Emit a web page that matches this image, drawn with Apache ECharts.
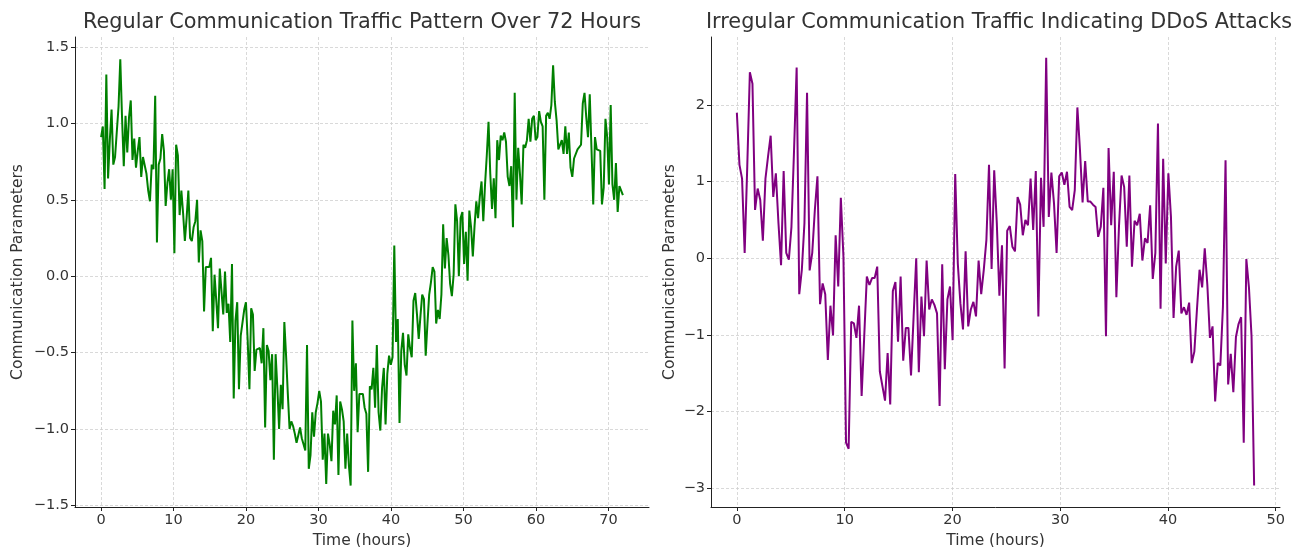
<!DOCTYPE html>
<html><head><meta charset="utf-8">
<script src="https://cdn.jsdelivr.net/npm/echarts@6/dist/echarts.min.js"></script>
<style>html,body{margin:0;padding:0;background:#fff}#c{width:1301px;height:547px}</style>
</head><body><div id="c"></div>
<script>
const leftTitle = 'Regular Communication Traffic Pattern Over 72 Hours';
const rightTitle = 'Irregular Communication Traffic Indicating DDoS Attacks';
const xName = 'Time (hours)';
const yName = 'Communication Parameters';
const leftHours = 72;
const rightHours = 48;

const regularValues = [
 0.91, 0.98, 0.57, 1.32, 0.64, 0.89, 1.09, 0.73, 0.78, 0.79,
 1.11, 1.42, 1.04, 0.72, 1.05, 0.81, 1.04, 1.15, 0.76, 0.90,
 0.71, 0.82, 0.91, 0.65, 0.78, 0.77, 0.67, 0.56, 0.49, 0.73,
 0.70, 1.18, 0.22, 0.73, 0.77, 0.93, 0.82, 0.46, 0.61, 0.70,
 0.50, 0.70, 0.15, 0.86, 0.79, 0.40, 0.56, 0.41, 0.23, 0.38,
 0.56, 0.25, 0.23, 0.32, 0.36, 0.50, 0.09, 0.30, 0.23, -0.23,
 0.06, 0.07, 0.06, 0.12, -0.36, 0.01, -0.16, -0.34, 0.05, 0.06,
 -0.25, 0.03, -0.24, -0.18, -0.43, 0.08, -0.80, -0.29, -0.17, -0.74,
 -0.39, -0.39, -0.22, -0.17, -0.42, -0.74, -0.21, -0.25, -0.62, -0.48,
 -0.48, -0.47, -0.57, -0.34, -0.99, -0.45, -0.49, -0.68, -0.51, -1.20,
 -0.51, -0.73, -1.00, -0.71, -0.87, -0.30, -0.52, -0.77, -1.00, -0.95,
 -0.98, -1.03, -1.09, -1.04, -0.99, -1.06, -1.10, -1.14, -0.45, -1.26,
 -1.17, -0.89, -1.05, -0.89, -0.83, -0.75, -0.82, -1.20, -1.03, -1.36,
 -1.03, -1.10, -1.21, -0.88, -0.97, -0.78, -1.30, -0.82, -0.87, -0.95,
 -1.26, -1.03, -1.24, -1.37, -0.29, -0.75, -0.57, -1.02, -0.77, -0.76,
 -0.77, -0.86, -0.90, -1.28, -0.72, -0.74, -0.60, -0.86, -0.45, -0.89,
 -1.01, -0.73, -0.60, -0.97, -0.64, -0.52, -0.58, -0.53, 0.20, -0.43,
 -0.28, -0.96, -0.49, -0.37, -0.58, -0.65, -0.38, -0.47, -0.53, -0.16,
 -0.11, -0.25, -0.41, -0.26, -0.12, -0.15, -0.52, -0.31, -0.12, -0.04,
 0.06, 0.03, -0.31, -0.22, -0.28, -0.12, 0.34, 0.05, 0.25, 0.14,
 -0.05, -0.13, 0.01, 0.47, 0.36, 0.00, 0.38, 0.42, 0.08, 0.29,
 -0.03, 0.43, 0.32, 0.13, 0.33, 0.49, 0.38, 0.52, 0.62, 0.36,
 0.60, 0.79, 1.01, 0.67, 0.44, 0.64, 0.38, 0.89, 0.76, 0.92,
 0.89, 0.94, 0.88, 0.65, 0.59, 0.72, 0.32, 1.20, 0.50, 0.84,
 0.67, 0.47, 0.86, 0.84, 0.89, 1.03, 0.88, 1.03, 1.05, 0.89,
 0.91, 1.08, 1.01, 0.98, 0.50, 1.05, 1.07, 1.03, 1.12, 1.38,
 1.14, 1.02, 0.83, 0.83, 0.89, 0.80, 0.98, 0.80, 0.94, 0.71,
 0.65, 0.77, 0.76, 0.83, 0.82, 0.86, 1.13, 1.20, 1.04, 0.91,
 1.19, 0.83, 0.47, 0.91, 0.83, 0.82, 0.82, 0.47, 0.58, 1.03,
 0.91, 0.60, 1.12, 0.60, 0.50, 0.74, 0.42, 0.59, 0.59, 0.53
];

const ddosValues = [
 1.90, 1.22, 1.04, 0.07, 1.20, 2.43, 2.28, 0.63, 0.91, 0.76,
 0.23, 1.04, 1.33, 1.60, 0.80, 1.11, 0.46, -0.09, 1.14, 0.07,
 -0.02, 0.41, 1.41, 2.49, -0.47, -0.15, 0.46, 2.16, -0.16, 0.07,
 0.63, 1.07, -0.60, -0.33, -0.47, -1.33, -0.62, -1.01, 0.30, -0.37,
 0.79, 0.02, -2.41, -2.49, -0.83, -0.85, -1.04, -0.62, -1.80, -1.02,
 -0.24, -0.35, -0.26, -0.26, -0.11, -1.48, -1.67, -1.86, -1.24, -1.91,
 -0.43, -0.31, -1.09, -0.24, -1.34, -0.91, -0.91, -1.53, -0.76, 0.00,
 -1.49, -0.50, -1.02, -0.03, -0.67, -0.54, -0.61, -0.72, -1.93, -0.08,
 -1.45, -0.54, -0.37, -1.07, 1.10, -0.07, -0.59, -0.93, 0.09, -0.89,
 -0.67, -0.57, -0.76, -0.03, -0.47, -0.15, 0.24, 1.22, -0.14, 1.15,
 0.46, -0.49, 0.17, -1.44, 0.36, 0.42, 0.15, 0.09, 0.80, 0.70,
 0.30, 0.50, 0.43, 1.04, 0.37, 1.14, -0.76, 1.05, 0.41, 2.62,
 0.54, 1.12, 0.72, 0.07, 1.07, 1.12, 0.96, 1.13, 0.67, 0.63,
 0.89, 1.97, 1.41, 0.73, 1.27, 0.74, 0.74, 0.70, 0.67, 0.28,
 0.41, 0.92, -1.02, 1.44, 0.43, 1.13, -0.51, 0.41, 1.08, 0.93,
 0.15, 1.08, -0.11, 0.49, 0.43, 0.58, -0.03, 0.26, 0.20, 0.69,
 -0.27, 0.07, 1.76, -0.66, 1.30, -0.07, 1.11, 0.54, -0.78, -0.11,
 0.10, -0.72, -0.64, -0.74, -0.58, -1.37, -1.22, -0.67, -0.15, -0.38,
 0.13, -0.35, -1.04, -0.89, -1.87, -1.37, -1.40, -0.63, 1.28, -1.65,
 -1.25, -1.75, -1.03, -0.86, -0.77, -2.41, -0.01, -0.38, -1.02, -2.97
];

const leftXTicks = [0, 10, 20, 30, 40, 50, 60, 70];
const rightXTicks = [0, 10, 20, 30, 40, 50];
const leftYTicks = [-1.5, -1.0, -0.5, 0.0, 0.5, 1.0, 1.5];
const rightYTicks = [-3, -2, -1, 0, 1, 2];

function toPairs(vals, hours) {
  const n = vals.length;
  return vals.map((v, i) => [i * hours / (n - 1), v]);
}
const minus = s => String(s).replace('-', '\u2212');
const FONT = 'DejaVu Sans';
const gridLine = { show: true, lineStyle: { color: '#cfcfcf', width: 0.8, type: [3, 2] } };
function xAxis(idx, min, max, ticks) {
  return {
    type: 'value', gridIndex: idx, min: min, max: max,
    name: xName, nameLocation: 'middle', nameGap: 24,
    nameTextStyle: { fontFamily: FONT, fontSize: 15.5, color: '#333' },
    axisLine: { show: true, onZero: false, lineStyle: { color: '#222', width: 1 } },
    axisTick: { show: true, length: 4, customValues: ticks, lineStyle: { color: '#222' } },
    axisLabel: { customValues: ticks, margin: 6, fontFamily: FONT, fontSize: 14.5, color: '#333', formatter: v => minus(v) },
    splitLine: gridLine
  };
}
function yAxis(idx, min, max, ticks, dec, gap) {
  return {
    type: 'value', gridIndex: idx, min: min, max: max,
    name: yName, nameLocation: 'middle', nameGap: gap,
    nameTextStyle: { fontFamily: FONT, fontSize: 15.5, color: '#333' },
    axisLine: { show: true, onZero: false, lineStyle: { color: '#222', width: 1 } },
    axisTick: { show: true, length: 4, customValues: ticks, lineStyle: { color: '#222' } },
    axisLabel: { customValues: ticks, margin: 6, fontFamily: FONT, fontSize: 14.5, color: '#333', formatter: v => minus(Number(v).toFixed(dec)) },
    splitLine: gridLine
  };
}

const chart = echarts.init(document.getElementById('c'), null, { renderer: 'canvas' });
chart.setOption({
  animation: false,
  backgroundColor: '#fff',
  title: [
    { text: leftTitle, left: 357, top: 7, textAlign: 'center', textStyle: { fontFamily: FONT, fontSize: 20.8, fontWeight: 'normal', color: '#333' } },
    { text: rightTitle, left: 994, top: 7, textAlign: 'center', textStyle: { fontFamily: FONT, fontSize: 20.8, fontWeight: 'normal', color: '#333' } }
  ],
  grid: [
    { left: 75, right: 652, top: 37, bottom: 40, containLabel: false, outerBoundsMode: 'none' },
    { left: 711, right: 21, top: 37, bottom: 40, containLabel: false, outerBoundsMode: 'none' }
  ],
  xAxis: [xAxis(0, -3.6, 75.6, leftXTicks), xAxis(1, -2.4, 50.4, rightXTicks)],
  yAxis: [yAxis(0, -1.51, 1.565, leftYTicks, 1, 49), yAxis(1, -3.25, 2.89, rightYTicks, 0, 33)],
  series: [
    { type: 'line', xAxisIndex: 0, yAxisIndex: 0, data: toPairs(regularValues, leftHours), showSymbol: false, lineStyle: { color: '#008000', width: 2 }, itemStyle: { color: '#008000' } },
    { type: 'line', xAxisIndex: 1, yAxisIndex: 1, data: toPairs(ddosValues, rightHours), showSymbol: false, lineStyle: { color: '#800080', width: 2 }, itemStyle: { color: '#800080' } }
  ]
});
</script>
</body></html>
